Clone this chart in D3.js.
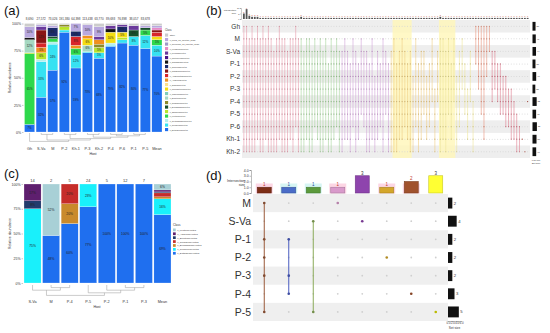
<!DOCTYPE html>
<html><head><meta charset="utf-8">
<script src="https://cdn.jsdelivr.net/npm/d3@7/dist/d3.min.js"></script>
<style>body{margin:0;background:#fff}svg{display:block}text{font-family:"Liberation Sans",Arial,sans-serif}</style>
</head><body><svg id="c" width="550" height="333"></svg>
<script>
// ---------------- DATA ----------------
// Panel (a)
const samplesA = ["Gh","S-Va","M","P-2","Kh-1","P-3","Kh-2","P-4","P-6","P-1","P-5","Mean"];
const readsA = ["8,690","27,572","73,026","191,380","64,398","113,438","63,770","89,693","76,898","38,057","83,678",""];
const classesA = ["c_Dothideomycetes","c_Tremellomycetes","c_Cystobasidiomycetes","c_Leotiomycetes","c_Taphrinomycetes",
  "c_Exobasidiomycetes","c_Sordariomycetes","c_Eurotiomycetes","c_Wallemiomycetes","c_Microbotryomycetes","c_Orbiliomycetes",
  "c_Agaricomycetes","c_Agaricostilbomycetes","c_Malasseziomycetes","c_Spizellomycetes","c_Saccharomycetes","c_Mortierellomycetes",
  "c_Pezizomycetes","c_Lecanoromycetes","c_Cercozoa_cls_Incertae_sedis","c_Fungi_cls_Incertae_sedis","Other"];
const abundanceA = [
  [7,32,57,92,59,73,68,79,82,80,77,70],
  [0,33,24,2,12,1,5,1,3,8,12,10],
  [0,2,2,0,0,0,0,2,0,0,0,0],
  [65,0,3,0,6,0,0,0,0,0,5,5],
  [1,6,0,3,0,0,5,0,2,0,0,0],
  [0,0,2,0,0,0,0,0,0,6,2,0],
  [0,0,0,2,0,0,3,0,0,0,0,0],
  [12,0,0,0,0,6,0,0,0,0,0,0],
  [0,0,0,0,0,0,0,0,0,0,0,0],
  [0,0,0,0,0,6,0,10,5,0,0,3],
  [0,0,0,0,0,0,0,0,0,0,0,0],
  [0,5,0,0,3,3,4,0,0,0,0,0],
  [0,4,0,0,8,0,0,0,0,0,0,4],
  [0,12,0,0,0,0,0,0,0,0,0,2],
  [0,0,8,0,5,0,0,0,5,0,0,0],
  [2,0,0,0,0,0,0,3,0,0,0,0],
  [0,0,0,0,0,0,0,0,0,0,0,0],
  [0,3,0,0,0,0,3,3,2,4,0,0],
  [0,0,0,0,0,0,0,0,0,0,0,2],
  [0,0,0,0,0,0,0,0,0,0,0,0],
  [10,2,2,0,7,10,9,0,0,0,2,2],
  [3,1,2,1,0,1,3,2,1,2,2,2]
];
const treeA = [0, [[1,2], [[3,4], [[5,6], [[7,8],[9,10]]]]]];
const ticksPct = [0,25,50,75,100];

// Panel (c)
const samplesC = ["S-Va","M","P-4","P-5","P-2","P-1","P-3","Mean"];
const countsC = ["14","2","5","24","5","12","7",""];
const classesC = ["c_Dothideomycetes","c_Tremellomycetes","c_Exobasidiomycetes","c_Sordariomycetes","c_Eurotiomycetes","c_Agaricomycetes","c_Leotiomycetes"];
const abundanceC = [
  [0,48,60,77,100,100,100,69],
  [75,0,0,23,0,0,0,16],
  [0,0,20,0,0,0,0,2],
  [0,0,20,0,0,0,0,4],
  [8,0,0,0,0,0,0,1],
  [17,0,0,0,0,0,0,2],
  [0,52,0,0,0,0,0,6]
];
const treeC = [[0,[1,2]],[3,[4,[5,6]]]];

// Panel (b) UpSet: [topRow, bottomRow, intersectionSize]
const bRows = ["Gh","M","S-Va","P-1","P-2","P-3","P-4","P-5","P-6","Kh-1","Kh-2"];
const bSetSizes = [38,41,44,37,46,35,52,45,55,50,46];
const bDeg1 = [[0,10,5],[0,10,9],[1,10,3],[0,10,2],[1,10,2],[0,9,2],[1,10,1],[0,10,1],[1,9,1],[0,10,1],[1,10,1],[2,10,1],[1,10,1],[0,9,1],[1,10,1],[1,10,1],[2,10,1],[1,9,1],[1,10,1],[0,8,1],[1,10,1]];
const bDeg2 = [[1,10,2],[2,10,1],[1,9,1],[1,10,1],[2,10,1],[1,8,1],[2,9,1],[1,10,1],[2,10,1],[1,9,1],[3,10,1],[1,10,1],[2,9,1],[1,8,1],[2,10,1]];
const bDeg3 = [[2,10,1],[1,9,1],[2,9,1],[3,10,1],[1,8,1],[2,10,1],[3,9,1],[1,7,1],[2,8,1],[2,10,1],[3,10,1],[1,9,1],[4,10,1],[2,9,1],[3,8,1],[1,10,1],[2,7,1],[3,10,1]];
const bDeg4 = [[2,10,1],[1,10,1],[3,10,1],[2,9,1],[1,9,1],[2,8,1],[3,9,1],[2,10,1],[4,10,1],[1,8,1],[3,10,1],[2,9,1],[2,7,1],[4,9,1],[3,8,1],[1,6,1],[5,10,1],[2,6,1]];
const bDeg5 = [[1,10,2],[1,9,1],[2,10,1],[1,7,1],[3,9,1],[1,6,1],[4,10,1],[2,8,1],[1,5,1],[3,7,1],[5,9,1],[2,6,1],[6,10,1]];
const bDeg6 = [[0,3,1],[0,5,1],[0,7,1],[0,9,1],[0,4,1],[0,2,1]];
const bDeg7 = [[2,6,1],[2,5,1],[3,6,1],[3,7,1],[4,7,1],[4,8,1],[5,8,1],[5,9,1],[6,9,1],[7,10,1],[8,10,1]];
const bDeg8 = [[9,9,1],[10,10,1],[6,6,1]];
const bHighlight = [[55,61],[72,77]];

// Panel (d) UpSet
const dRows = ["M","S-Va","P-1","P-2","P-3","P-4","P-5"];
const dSetSizes = [2,4,2,2,2,3,5];
const dCounts = [1,1,1,1,3,1,2,3];
const dMembers = [["M","P-1","P-2","P-3","P-5"],["P-1","P-3","P-4"],["S-Va","P-5"],["M"],["S-Va"],["P-2"],["P-4"],["P-5"]];
const dTicks = [0,1,2,3,4];
const dSetTicks = [0,2,4,6];

// ---------------- STYLE ----------------
const colorsA = ["#1f6fef","#36e2f2","#b4efec","#2ed84c","#b9e32a","#17502a","#8c8a2c","#a6d8c2","#7fcdbb","#f4dd12","#fee08b",
  "#f0901e","#d8262a","#8a1414","#1c2b6b","#141414","#4a1486","#6b3a9c","#e58bc6","#9e9ac8","#b8a8de","#cccccc"];
const colorsC = ["#1f6fef","#19f0fb","#c98a2c","#c62d2a","#223a6c","#5e1f6e","#a8d0d6"];
const bGroupColors = ["#e89aab","#a6d49c","#d2a5d8","#f0cf84","#efe59a","#e8937d","#de7d8e","#b03a2e"];
const dColors = ["#7d2e16","#4a6cc8","#5c9a3c","#d99acb","#8e44ad","#d4a62a","#a0522d","#ffff33"];
const dLineColors = ["#9a5a3a","#4a5cc0","#8aaa5a","#d99acb","#8e44ad","#d4a62a","#a0522d","#e0e000"];
const dHalo = ["#fcd6e4","#d6f5f3","#d6f5f3","#fcd6e4",null,"#fcd6e4","#fcd6e4",null];
const dLabelCol = ["#c0392b","#2a4a9a","#2a4a9a","#c0392b","#333","#c0392b","#c0392b","#333"];

// ---------------- DRAW ----------------
const svg = d3.select("#c");
svg.append("rect").attr("width",550).attr("height",333).attr("fill","#fff");

function panelLabel(x,y,t){
  svg.append("text").attr("x",x).attr("y",y).attr("font-family","Liberation Serif, serif")
    .attr("font-size",13).attr("fill","#111").text(t);
}

function drawTree(g, tree, xOf, y0, dy){
  function rec(node){
    if (typeof node === "number") return {x:xOf(node), h:0};
    const kids = node.map(rec);
    const h = d3.max(kids, k=>k.h) + 1;
    const yy = y0 + h*dy;
    kids.forEach(k=>g.append("line").attr("x1",k.x).attr("x2",k.x).attr("y1",y0+k.h*dy).attr("y2",yy)
      .attr("stroke","#999").attr("stroke-width",0.5));
    g.append("line").attr("x1",d3.min(kids,k=>k.x)).attr("x2",d3.max(kids,k=>k.x)).attr("y1",yy).attr("y2",yy)
      .attr("stroke","#999").attr("stroke-width",0.5);
    return {x:d3.mean(kids,k=>k.x), h};
  }
  rec(tree);
}

function stackPanel(o){
  const g = svg.append("g");
  const table = o.samples.map((s,j)=>{const r={sample:s}; o.classes.forEach((c,i)=>r[c]=o.matrix[i][j]); return r;});
  const series = d3.stack().keys(o.classes)(table);
  series.forEach((ser,i)=>{
    g.selectAll(null).data(ser.filter(d=>d[1]>d[0])).join("rect")
      .attr("x",d=>o.x(d.data.sample)).attr("width",o.x.bandwidth())
      .attr("y",d=>o.y(d[1])).attr("height",d=>o.y(d[0])-o.y(d[1]))
      .attr("fill",o.colors[i]).attr("stroke","#fff").attr("stroke-width",0.25);
    g.selectAll(null).data(ser.filter(d=>d[1]-d[0]>=o.minLab)).join("text")
      .attr("x",d=>o.x(d.data.sample)+o.x.bandwidth()/2).attr("y",d=>o.y((d[0]+d[1])/2)+o.labFs*0.35)
      .attr("text-anchor","middle").attr("font-size",o.labFs).attr("fill","#222")
      .text(d=>Math.round(d[1]-d[0])+"%");
  });
  const ax = g.append("g").attr("transform",`translate(${o.axisX},0)`)
    .call(d3.axisLeft(o.y).tickValues(ticksPct).tickFormat(d=>d+"%").tickSize(1.5).tickPadding(1));
  ax.select(".domain").remove();
  ax.selectAll("line").attr("stroke","#777").attr("stroke-width",0.4);
  ax.selectAll("text").attr("font-size",o.tickFs).attr("fill","#333").attr("font-family","Liberation Sans");
  g.selectAll(null).data(o.samples).join("text")
    .attr("x",s=>o.x(s)+o.x.bandwidth()/2).attr("y",o.topY).attr("text-anchor","middle")
    .attr("font-size",o.topFs).attr("fill","#333").text((s,i)=>o.top[i]);
  g.selectAll(null).data(o.samples).join("text")
    .attr("x",s=>o.x(s)+o.x.bandwidth()/2).attr("y",o.xlabY).attr("text-anchor","middle")
    .attr("font-size",o.xFs).attr("fill","#333").text(s=>s);
  g.append("text").attr("x",o.hostX).attr("y",o.xlabY+4.5).attr("text-anchor","middle").attr("font-size",o.tickFs).attr("fill","#333").text("Host");
  g.append("text").attr("transform",`translate(${o.ytX},${(o.y(0)+o.y(100))/2}) rotate(-90)`).attr("text-anchor","middle")
    .attr("font-size",o.tickFs).attr("fill","#333").text("Relative abundance");
  drawTree(g, o.tree, i=>o.x(o.samples[i])+o.x.bandwidth()/2, o.dendY, o.dendDy);
  const lg = g.append("g");
  lg.append("text").attr("x",o.legX).attr("y",o.legY).attr("font-size",o.legFs+0.5).attr("fill","#333").text("Class");
  const items = o.classes.map((c,i)=>({c,col:o.colors[i]})).reverse();
  items.forEach((it,k)=>{
    const yy = o.legY + 2.5 + k*o.legStep;
    lg.append("rect").attr("x",o.legX).attr("y",yy).attr("width",o.legStep*0.7).attr("height",o.legStep*0.7).attr("fill",it.col);
    lg.append("text").attr("x",o.legX+o.legStep*0.7+1.5).attr("y",yy+o.legStep*0.6).attr("font-size",o.legFs).attr("fill","#333").text(it.c);
  });
}

// ---- Panel (a)
panelLabel(4,15,"(a)");
const xA = d3.scaleBand().domain(samplesA).range([24.5,162]).paddingInner(0.12);
const yA = d3.scaleLinear().domain([0,100]).range([132,23.5]);
stackPanel({samples:samplesA, classes:classesA, matrix:abundanceA, colors:colorsA, x:xA, y:yA,
  minLab:5, labFs:2.8, axisX:23.5, tickFs:3.5, top:readsA, topY:19.5, topFs:3, xlabY:150, xFs:3.8, hostX:93,
  ytX:11, tree:treeA, dendY:133, dendDy:1.4, legX:165, legY:31, legStep:4.5, legFs:2.1});

// ---- Panel (c)
panelLabel(4,178,"(c)");
const xC = d3.scaleBand().domain(samplesC).range([24,171]).paddingInner(0.08);
const yC = d3.scaleLinear().domain([0,100]).range([283,184]);
stackPanel({samples:samplesC, classes:classesC, matrix:abundanceC, colors:colorsC, x:xC, y:yC,
  minLab:5, labFs:3.3, axisX:23, tickFs:3.5, top:countsC, topY:182, topFs:4, xlabY:303, xFs:3.8, hostX:97,
  ytX:11, tree:treeC, dendY:285, dendDy:2.6, legX:173, legY:226, legStep:3.9, legFs:2.5});

// ---- Panel (b)
panelLabel(206,15,"(b)");
(function(){
  const g = svg.append("g");
  const cols = [];
  [bDeg1,bDeg2,bDeg3,bDeg4,bDeg5,bDeg6,bDeg7,bDeg8].forEach((arr,gi)=>arr.forEach(c=>cols.push({top:c[0],bot:c[1],n:c[2],grp:gi})));
  const xB = d3.scaleBand().domain(d3.range(cols.length)).range([242.5,529]);
  const yB = d3.scaleBand().domain(bRows).range([20,158]);
  const yBI = d3.scaleLinear().domain([0,10]).range([19,8]);
  const xBS = d3.scaleLinear().domain([0,100]).range([532.5,540.5]);
  bRows.forEach((r,i)=>{ if(i%2===0) g.append("rect").attr("x",242).attr("y",yB(r)).attr("width",288).attr("height",yB.bandwidth()).attr("fill","#eeeeee"); });
  bHighlight.forEach(h=>g.append("rect").attr("x",xB(h[0])).attr("y",20).attr("width",xB(h[1])+xB.bandwidth()-xB(h[0])).attr("height",138).attr("fill","#fff6b8").attr("opacity",0.8));
  g.selectAll(null).data(bRows).join("text").attr("x",240).attr("y",r=>yB(r)+yB.bandwidth()/2+2.3)
    .attr("text-anchor","end").attr("font-size",6.5).attr("fill","#333").text(r=>r);
  cols.forEach((c,i)=>{
    const cx = xB(i)+xB.bandwidth()/2;
    const col = bGroupColors[c.grp];
    bRows.forEach((r,k)=>{
      if(k<c.top||k>c.bot) g.append("circle").attr("cx",cx).attr("cy",yB(r)+yB.bandwidth()/2).attr("r",0.5).attr("fill","#d4d4d4");
    });
    if(c.bot>c.top) g.append("line").attr("x1",cx).attr("x2",cx).attr("y1",yB(bRows[c.top])+yB.bandwidth()/2).attr("y2",yB(bRows[c.bot])+yB.bandwidth()/2)
      .attr("stroke",col).attr("stroke-width",0.6);
    for(let k=c.top;k<=c.bot;k++) g.append("circle").attr("cx",cx).attr("cy",yB(bRows[k])+yB.bandwidth()/2).attr("r",0.6).attr("fill",d3.color(col).darker(0.5));
    g.append("rect").attr("x",cx-0.9).attr("width",1.8).attr("y",yBI(c.n)).attr("height",yBI(0)-yBI(c.n)).attr("fill","#555");
    g.append("text").attr("x",cx).attr("y",yBI(c.n)-0.6).attr("text-anchor","middle").attr("font-size",2).attr("fill","#c0392b").text(c.n);
  });
  const ax = g.append("g").attr("transform","translate(241,0)").call(d3.axisLeft(yBI).tickValues([0,5,10]).tickSize(1).tickPadding(0.5));
  ax.selectAll("path,line").attr("stroke","#555").attr("stroke-width",0.3);
  ax.selectAll("text").attr("font-size",2.2).attr("fill","#333");
  g.append("text").attr("x",236).attr("y",11).attr("text-anchor","end").attr("font-size",2.4).attr("fill","#333").text("Intersection");
  g.append("text").attr("x",236).attr("y",14).attr("text-anchor","end").attr("font-size",2.4).attr("fill","#333").text("size");
  bRows.forEach((r,i)=>{
    const y0 = yB(r)+yB.bandwidth()*0.15;
    g.append("rect").attr("x",xBS(0)).attr("y",y0).attr("width",xBS(bSetSizes[i])-xBS(0)).attr("height",yB.bandwidth()*0.7).attr("fill","#111");
    g.append("text").attr("x",xBS(bSetSizes[i])+1).attr("y",yB(r)+yB.bandwidth()/2+0.8).attr("font-size",2.2).attr("fill","#333").text(bSetSizes[i]);
  });
  g.append("text").attr("x",536).attr("y",161).attr("text-anchor","middle").attr("font-size",2.2).attr("fill","#333").text("0  50 100");
  g.append("text").attr("x",536).attr("y",164).attr("text-anchor","middle").attr("font-size",2.4).attr("fill","#333").text("Set size");
})();

// ---- Panel (d)
panelLabel(206,180,"(d)");
(function(){
  const g = svg.append("g");
  const xD = d3.scaleBand().domain(d3.range(dCounts.length)).range([252,448]);
  const yD = d3.scaleBand().domain(dRows).range([194,321]);
  const yDI = d3.scaleLinear().domain([0,4]).range([193,170]);
  const xDS = d3.scaleLinear().domain([0,6]).range([448,461]);
  dRows.forEach((r,i)=>{ if(i%2===0) g.append("rect").attr("x",253).attr("y",yD(r)).attr("width",195).attr("height",yD.bandwidth()).attr("fill","#efefef"); });
  g.selectAll(null).data(dRows).join("text").attr("x",251).attr("y",r=>yD(r)+yD.bandwidth()/2+3.8)
    .attr("text-anchor","end").attr("font-size",10.5).attr("fill","#333").text(r=>r);
  dCounts.forEach((n,i)=>{
    const cx = xD(i)+xD.bandwidth()/2;
    if(dHalo[i]) g.append("rect").attr("x",cx-8.5).attr("y",183.5).attr("width",17).attr("height",10).attr("fill",dHalo[i]);
    g.append("rect").attr("x",cx-7).attr("width",14).attr("y",yDI(n)).attr("height",yDI(0)-yDI(n))
      .attr("fill",dColors[i]).attr("stroke",d3.color(dColors[i]).darker(0.7)).attr("stroke-width",0.6);
    g.append("text").attr("x",cx).attr("y",yDI(n)-1.2).attr("text-anchor","middle").attr("font-size",4.5).attr("fill",dLabelCol[i]).text(n);
    const mem = dMembers[i];
    dRows.forEach(r=>{ if(!mem.includes(r)) g.append("circle").attr("cx",cx).attr("cy",yD(r)+yD.bandwidth()/2).attr("r",0.9).attr("fill","#cfcfcf"); });
    const ys = mem.map(r=>yD(r)+yD.bandwidth()/2);
    if(ys.length>1) g.append("line").attr("x1",cx).attr("x2",cx).attr("y1",d3.min(ys)).attr("y2",d3.max(ys)).attr("stroke",dLineColors[i]).attr("stroke-width",1);
    ys.forEach(y=>g.append("circle").attr("cx",cx).attr("cy",y).attr("r",1.3).attr("fill",d3.color(dLineColors[i]).darker(0.5)));
  });
  const ax = g.append("g").attr("transform","translate(251,0)").call(d3.axisLeft(yDI).tickValues(dTicks).tickSize(1.5).tickPadding(0.8));
  ax.selectAll("path,line").attr("stroke","#555").attr("stroke-width",0.4);
  ax.selectAll("text").attr("font-size",3.5).attr("fill","#333");
  g.append("text").attr("x",245).attr("y",181.5).attr("text-anchor","end").attr("font-size",3.5).attr("fill","#333").text("Intersection");
  g.append("text").attr("x",245).attr("y",185.5).attr("text-anchor","end").attr("font-size",3.5).attr("fill","#333").text("size");
  dRows.forEach((r,i)=>{
    g.append("rect").attr("x",xDS(0)).attr("y",yD(r)+yD.bandwidth()*0.2).attr("width",xDS(dSetSizes[i])-xDS(0)).attr("height",yD.bandwidth()*0.6).attr("fill","#111");
    g.append("text").attr("x",xDS(dSetSizes[i])+1.5).attr("y",yD(r)+yD.bandwidth()/2+1.5).attr("font-size",4.2).attr("fill","#333").text(dSetSizes[i]);
  });
  const sx = g.append("g").attr("transform","translate(0,321)").call(d3.axisBottom(xDS).tickValues(dSetTicks).tickSize(1).tickPadding(0.5));
  sx.selectAll("path,line").attr("stroke","#555").attr("stroke-width",0.3);
  sx.selectAll("text").attr("font-size",2.8).attr("fill","#333");
  g.append("text").attr("x",454.5).attr("y",329).attr("text-anchor","middle").attr("font-size",3.2).attr("fill","#333").text("Set size");
})();
</script></body></html>
